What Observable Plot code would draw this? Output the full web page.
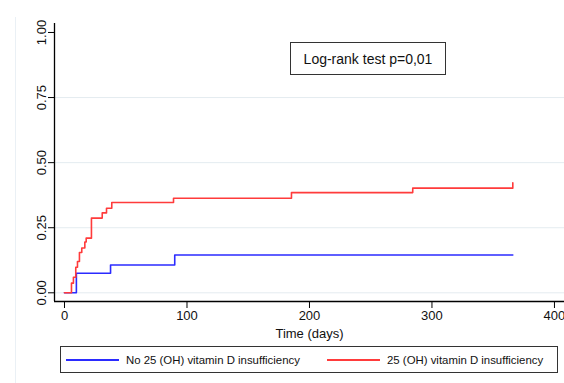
<!DOCTYPE html>
<html>
<head>
<meta charset="utf-8">
<script src="https://cdn.jsdelivr.net/npm/d3@7"></script>
<script src="https://cdn.jsdelivr.net/npm/@observablehq/plot@0.6"></script>
<style>
  html, body { margin: 0; padding: 0; background: #fff; }
  #wrap { position: relative; width: 564px; height: 383px; font-family: "Liberation Sans", Arial, sans-serif; color: #111; }
  #edge { position: absolute; left: 15px; top: 17px; width: 1px; height: 366px; background: #eaf0f5; }
  #logrank { position: absolute; left: 290px; top: 42px; width: 154px; height: 31px; border: 1.5px solid #333;
             font-size: 14px; display: flex; align-items: center; justify-content: center; background: #fff; }
  #legend { position: absolute; left: 60px; top: 346px; width: 496px; height: 25px; border: 1.5px solid #333; font-size: 11.4px; background: #fff; }
  .item { position: absolute; top: 0; height: 25px; display: flex; align-items: center; white-space: nowrap; }
  .swatch { display: inline-block; width: 53px; height: 2px; margin-right: 7px; }
  svg { position: absolute; left: 0; top: 0; }
</style>
</head>
<body>
<div id="wrap">
  <div id="edge"></div>
  <div id="chart"></div>
  <div id="logrank">Log-rank test p=0,01</div>
  <div id="legend"></div>
</div>
<script>
// Kaplan–Meier style cumulative incidence
const seriesNames = ["No 25 (OH) vitamin D insufficiency", "25 (OH) vitamin D insufficiency"];
const seriesColors = ["#2b2bff", "#ff3b3b"];

const noInsuffTime  = [0, 9.7, 37.6, 90, 366];
const noInsuffValue = [0, 0.075, 0.107, 0.145, 0.145];

const insuffTime  = [0, 5.7, 7.3, 9.2, 10.6, 12.2, 14.1, 16.6, 17.7, 22.0, 30.8, 34.3, 38.6, 89, 185.3, 284.3, 366, 366];
const insuffValue = [0, 0.037, 0.060, 0.098, 0.120, 0.155, 0.172, 0.195, 0.210, 0.287, 0.307, 0.325, 0.347, 0.363, 0.385, 0.402, 0.402, 0.423];

const xTicks = [0, 100, 200, 300, 400];
const yTicks = [0, 0.25, 0.5, 0.75, 1];
const gridTicks = [0, 0.25, 0.5, 0.75];
const xDomain = [-8.16, 408.2];
const yDomain = [-0.0334, 1.0345];

const rows = [];
noInsuffTime.forEach((t, i) => rows.push({series: seriesNames[0], time: t, value: noInsuffValue[i]}));
insuffTime.forEach((t, i) => rows.push({series: seriesNames[1], time: t, value: insuffValue[i]}));

const chart = Plot.plot({
  width: 564,
  height: 342,
  marginLeft: 54,
  marginRight: 0,
  marginTop: 23,
  marginBottom: 41,
  style: { fontFamily: "Liberation Sans, Arial, sans-serif", fontSize: "13px", color: "#111", background: "transparent" },
  x: { domain: xDomain },
  y: { domain: yDomain },
  color: { domain: seriesNames, range: seriesColors },
  marks: [
    Plot.gridY(gridTicks, { stroke: "#e4ecf0", strokeOpacity: 1, strokeWidth: 1 }),
    Plot.ruleX([xDomain[0]], { stroke: "#000", strokeWidth: 1.3 }),
    Plot.ruleY([yDomain[0]], { stroke: "#000", strokeWidth: 1.3 }),
    Plot.axisX(xTicks, { tickSize: 7, tickPadding: 2, fontSize: 13, label: "Time (days)", labelAnchor: "center", labelArrow: "none", labelOffset: 36, stroke: "#000" }),
    Plot.axisY(yTicks, { tickSize: 6, tickPadding: 3, fontSize: 13, tickRotate: -90, tickFormat: d3.format(".2f"), label: null, stroke: "#000" }),
    Plot.line(rows, { x: "time", y: "value", z: "series", stroke: "series", curve: "step-after", strokeWidth: 1.6 })
  ]
});
document.getElementById("chart").appendChild(chart);

// legend
const legend = document.getElementById("legend");
const legendLeft = [5, 266];
seriesNames.forEach((name, i) => {
  const item = document.createElement("div");
  item.className = "item";
  item.style.left = legendLeft[i] + "px";
  const sw = document.createElement("span");
  sw.className = "swatch";
  sw.style.background = seriesColors[i];
  item.appendChild(sw);
  item.appendChild(document.createTextNode(name));
  legend.appendChild(item);
});
</script>
</body>
</html>
